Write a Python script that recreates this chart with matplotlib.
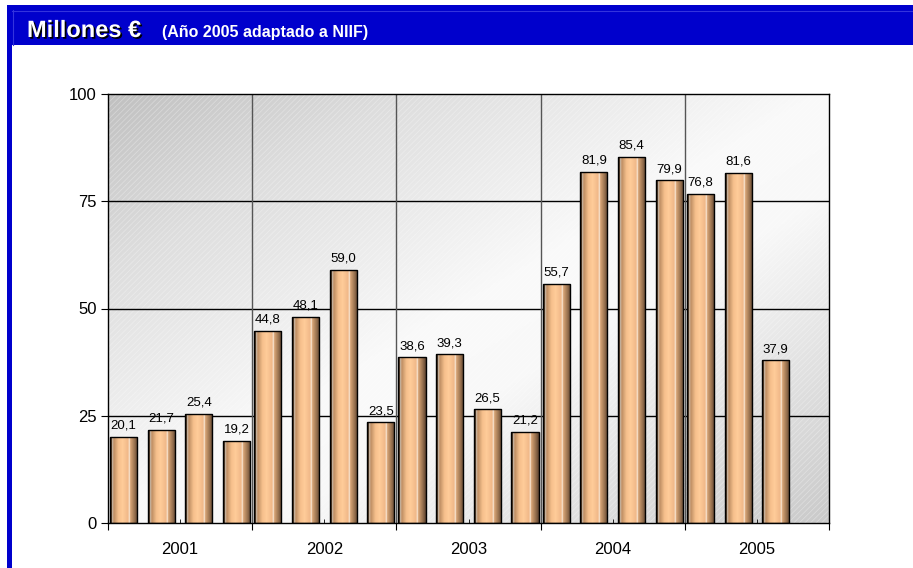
import matplotlib.pyplot as plt
import matplotlib.patheffects as pe
from matplotlib.colors import LinearSegmentedColormap
from matplotlib.patches import Rectangle
import numpy as np

# data
years = ['2001', '2002', '2003', '2004', '2005']
values = [20.1, 21.7, 25.4, 19.2,
          44.8, 48.1, 59.0, 23.5,
          38.6, 39.3, 26.5, 21.2,
          55.7, 81.9, 85.4, 79.9,
          76.8, 81.6, 37.9]
slots_per_year = 4
yticks = [0, 25, 50, 75, 100]

plt.rcParams['font.family'] = ['Liberation Sans', 'DejaVu Sans']
plt.rcParams['hatch.linewidth'] = 0.6

fig = plt.figure(figsize=(9.13, 5.68), dpi=100)

# blue frame + header band
W, H = 913, 568
bg = fig.add_axes([0, 0, 1, 1])
bg.set_xlim(0, W)
bg.set_ylim(H, 0)
bg.axis('off')
bg.add_patch(Rectangle((7, 5), W - 7, 40, facecolor='#0000cc', edgecolor='none'))
bg.add_patch(Rectangle((7, 5), 5, H, facecolor='#0000cc', edgecolor='none'))
bg.plot([12, W], [10.5, 10.5], color='#3333dd', lw=0.8)
bg.plot([12.5, 12.5], [10, 45], color='#3333dd', lw=0.8)
shadow = [pe.withSimplePatchShadow(offset=(1.2, -1.2), shadow_rgbFace='black', alpha=1.0)]
bg.text(27, 37, 'Millones €', color='white', fontsize=17, fontweight='bold',
        va='baseline', path_effects=shadow)
bg.text(162, 37, '(Año 2005 adaptado a NIIF)', color='white', fontsize=11.5,
        fontweight='bold', va='baseline')

ax = fig.add_axes([108 / W, 1 - 523 / H, (829 - 108) / W, (523 - 94) / H])
nslots = len(years) * slots_per_year
ax.set_xlim(0, nslots)
ax.set_ylim(0, 100)

# diagonal gray -> white -> gray background
gx, gy = np.meshgrid(np.linspace(0, 1, 300), np.linspace(0, 1, 200))
s = (gx + gy) / 2  # 0 at top-left, 1 at bottom-right (origin upper)
bgcmap = LinearSegmentedColormap.from_list(
    'bg', [(0, '#c0c0c0'), (0.2, '#dddddd'), (0.5, '#fafafa'), (0.62, '#f8f8f8'),
           (1, '#cacaca')])
ax.imshow(s, cmap=bgcmap, extent=(0, nslots, 0, 100), origin='upper',
          aspect='auto', zorder=0, vmin=0, vmax=1)
ax.add_patch(Rectangle((0, 0), nslots, 100, facecolor='none', hatch='//////',
                       edgecolor=(1, 1, 1, 0.3), lw=0, zorder=0.5))

# grid
for y in yticks[1:-1]:
    ax.axhline(y, color='black', lw=1, zorder=1)
for k in range(1, len(years)):
    ax.axvline(k * slots_per_year, color='#555555', lw=1, zorder=1)

# bars with cylinder shading
barcmap = LinearSegmentedColormap.from_list(
    'copper', [(0, '#2e2012'), (0.06, '#5a3f26'), (0.09, '#f4e6d6'), (0.12, '#b98a60'),
               (0.3, '#f6c08c'), (0.45, '#ffcc99'), (0.65, '#f0b888'),
               (0.7, '#fbeee0'), (0.73, '#d9a677'), (0.88, '#9a7350'), (1, '#5e4430')])
grad = np.linspace(0, 1, 100).reshape(1, -1)
idx = np.arange(len(values))
x = (idx // slots_per_year) * slots_per_year + slots_per_year / 2 \
    + ((idx % slots_per_year) - 1.5) * 1.045
bars = ax.bar(x, values, width=0.75, facecolor='none', edgecolor='black', lw=1, zorder=3)
for b, v in zip(bars, values):
    x0 = b.get_x()
    im = ax.imshow(grad, cmap=barcmap, extent=(x0, x0 + b.get_width(), 0, v),
                   aspect='auto', zorder=2)
    im.set_clip_path(b)
    ax.text(b.get_x() + b.get_width() / 2, v + 1.2, f'{v:.1f}'.replace('.', ','),
            ha='center', va='bottom', fontsize=9.5, zorder=4)

ax.set_xlim(0, nslots)
ax.set_ylim(0, 100)
ax.set_yticks(yticks)
ax.tick_params(axis='y', labelsize=12, length=5, direction='out', pad=3)
ax.set_xticks(np.arange(0, nslots + 1, slots_per_year))
ax.set_xticklabels([])
ax.tick_params(axis='x', which='major', length=5, direction='out')
ax.set_xticks(np.arange(len(years)) * slots_per_year + slots_per_year / 2, minor=True)
ax.set_xticklabels(years, minor=True)
ax.tick_params(axis='x', which='minor', length=3, direction='in', labelsize=12, pad=14)
for sp in ax.spines.values():
    sp.set_color('black')
    sp.set_linewidth(1)

fig.savefig('out.png', dpi=100)
